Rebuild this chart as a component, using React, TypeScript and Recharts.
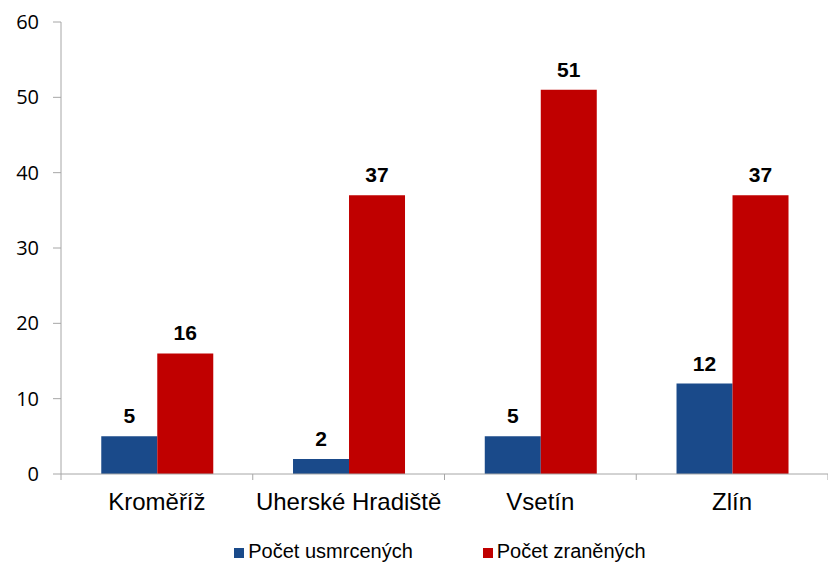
import React from 'react';
import { BarChart, Bar, XAxis, YAxis, Legend, LabelList } from 'recharts';

const districts = ['Kroměříž', 'Uherské Hradiště', 'Vsetín', 'Zlín'];
const killed = [5, 2, 5, 12];
const injured = [16, 37, 51, 37];
const yTicks = [0, 10, 20, 30, 40, 50, 60];

const BLUE = '#1A4A8A';
const RED = '#C00000';
const AXIS = '#A6A6A6';
const FONT = 'Liberation Sans, Arial, sans-serif';

const data = districts.map((name, i) => ({ name, killed: killed[i], injured: injured[i] }));

const CategoryTick = (props: any) => {
  const { x, y, payload, index } = props;
  const half = payload.offset || 0;
  return (
    <g>
      <line x1={x - half} x2={x - half} y1={y - 8} y2={y - 2} stroke={AXIS} strokeWidth={1} />
      {index === districts.length - 1 && (
        <line x1={x + half} x2={x + half} y1={y - 8} y2={y - 2} stroke={AXIS} strokeWidth={1} />
      )}
      <text x={x} y={y + 28} textAnchor="middle" fill="#000" fontSize={24} fontFamily={FONT}>
        {payload.value}
      </text>
    </g>
  );
};

const App: React.FC = () => {
  return (
    <div style={{ position: 'absolute', left: 0, top: 0, width: 828, height: 578, background: '#fff' }}>
      <BarChart
        width={828}
        height={578}
        data={data}
        margin={{ top: 22, right: 0, left: 0, bottom: 74 }}
        barCategoryGap="21%"
        barGap={0}
      >
        <XAxis
          dataKey="name"
          axisLine={{ stroke: AXIS }}
          tickLine={false}
          tick={<CategoryTick />}
          interval={0}
          height={30}
        />
        <YAxis
          domain={[0, 60]}
          ticks={yTicks}
          width={61}
          axisLine={{ stroke: AXIS }}
          tickLine={{ stroke: AXIS }}
          tickSize={8}
          tickMargin={14}
          tick={{ fill: '#000', fontSize: 20, fontFamily: 'Open Sans, sans-serif' }}
        />
        <Legend
          verticalAlign="middle"
          align="center"
          layout="horizontal"
          iconType="square"
          iconSize={10}
          wrapperStyle={{ top: 540, left: 31, width: 828, fontFamily: FONT, fontSize: 20 }}
          formatter={(value: string, _entry: any, index: number) => (
            <span style={{ color: '#000', marginRight: index === 0 ? 60 : 0 }}>{value}</span>
          )}
        />
        <Bar dataKey="killed" name="Počet usmrcených" fill={BLUE} isAnimationActive={false}>
          <LabelList dataKey="killed" position="top" offset={13} fill="#000" fontSize={21} fontWeight="bold" fontFamily={FONT} />
        </Bar>
        <Bar dataKey="injured" name="Počet zraněných" fill={RED} isAnimationActive={false}>
          <LabelList dataKey="injured" position="top" offset={13} fill="#000" fontSize={21} fontWeight="bold" fontFamily={FONT} />
        </Bar>
      </BarChart>
    </div>
  );
};

export default App;
